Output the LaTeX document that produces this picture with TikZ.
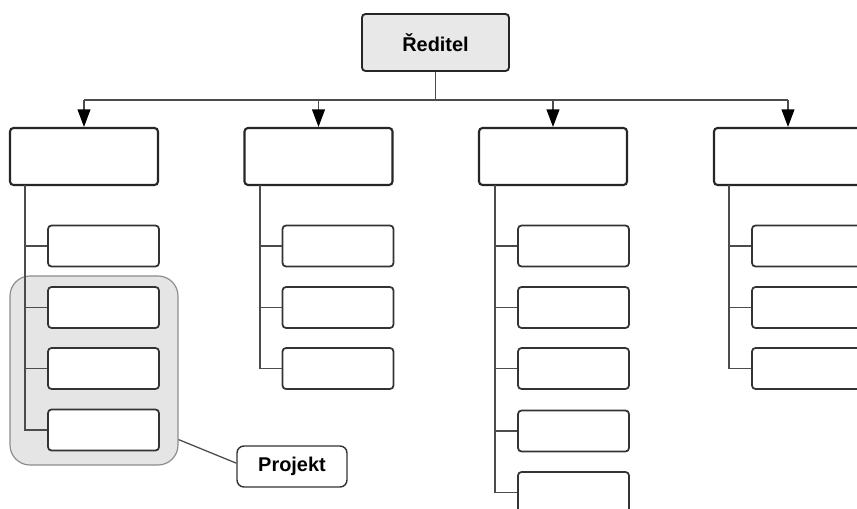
\documentclass[tikz,border=0pt]{standalone}
\usepackage{fontspec}
\setmainfont{Liberation Sans}
\usetikzlibrary{arrows.meta}

\begin{document}
\begin{tikzpicture}[x=0.03cm, y=-0.03cm,
    link/.style={draw=black!70, line width=1.1pt},
    down/.style={link, -{Triangle[length=15pt, width=11pt, black]}},
    chief/.style={draw=black!85, fill=black!9, line width=1.6pt, rounded corners=3pt,
        minimum width=4.41cm, minimum height=1.71cm, inner sep=0pt, font=\bfseries\fontsize{17}{19}\selectfont},
    unit/.style={draw=black!85, fill=white, line width=1.8pt, rounded corners=3pt,
        minimum width=4.44cm, minimum height=1.71cm, inner sep=0pt},
    sub/.style={draw=black!80, fill=white, line width=1.5pt, rounded corners=3pt,
        minimum width=3.33cm, minimum height=1.23cm, inner sep=0pt},
    group/.style={draw=black!45, fill=black!10, line width=1pt, rounded corners=0.6cm,
        minimum width=5.04cm, minimum height=5.67cm, inner sep=0pt},
    tag/.style={draw=black!80, fill=white, line width=1.2pt, rounded corners=6pt,
        minimum width=3.3cm, minimum height=1.23cm, inner sep=0pt, font=\bfseries\fontsize{17}{19}\selectfont}]

    \useasboundingbox (0, 0) rectangle (857, 509);
    \clip (0, 0) rectangle (857, 509);

    % project group behind the boxes
    \node[group] (grp) at (94, 370.5) {};

    \node[chief] (boss) at (435.5, 42.5) {Ředitel};

    \node[unit] (a1) at (84, 156.5) {};
    \node[unit] (a2) at (318.5, 156.5) {};
    \node[unit] (a3) at (553, 156.5) {};
    \node[unit] (a4) at (788, 156.5) {};

    \coordinate (bar) at (0, 100);
    \coordinate (t1) at (25, 185);
    \coordinate (t2) at (260, 185);
    \coordinate (t3) at (495, 185);
    \coordinate (t4) at (729, 185);

    \draw[link] (boss) -- (boss |- bar);
    \draw[link] (a1 |- bar) -- (a4 |- bar);
    \draw[down] (a1 |- bar) -- (a1);
    \draw[down] (a2 |- bar) -- (a2);
    \draw[down] (a3 |- bar) -- (a3);
    \draw[down] (a4 |- bar) -- (a4);

    % first column
    \node[sub] (b11) at (103.5, 246) {};
    \node[sub] (b12) at (103.5, 307.5) {};
    \node[sub] (b13) at (103.5, 368.5) {};
    \node[sub] (b14) at (103.5, 430) {};
    \draw[link] (t1) |- (b14);
    \draw[link] (t1 |- b11) -- (b11);
    \draw[link] (t1 |- b12) -- (b12);
    \draw[link] (t1 |- b13) -- (b13);

    % second column
    \node[sub] (b21) at (338, 246) {};
    \node[sub] (b22) at (338, 307.5) {};
    \node[sub] (b23) at (338, 368.5) {};
    \draw[link] (t2) |- (b23);
    \draw[link] (t2 |- b21) -- (b21);
    \draw[link] (t2 |- b22) -- (b22);

    % third column
    \node[sub] (b31) at (573.5, 246) {};
    \node[sub] (b32) at (573.5, 307.5) {};
    \node[sub] (b33) at (573.5, 368.5) {};
    \node[sub] (b34) at (573.5, 431) {};
    \node[sub] (b35) at (573.5, 492.5) {};
    \draw[link] (t3) |- (b35);
    \draw[link] (t3 |- b31) -- (b31);
    \draw[link] (t3 |- b32) -- (b32);
    \draw[link] (t3 |- b33) -- (b33);
    \draw[link] (t3 |- b34) -- (b34);

    % fourth column
    \node[sub] (b41) at (807.5, 246) {};
    \node[sub] (b42) at (807.5, 307.5) {};
    \node[sub] (b43) at (807.5, 368.5) {};
    \draw[link] (t4) |- (b43);
    \draw[link] (t4 |- b41) -- (b41);
    \draw[link] (t4 |- b42) -- (b42);

    % project label
    \node[tag] (proj) at (292, 466.5) {Projekt};
    \draw[link] ([yshift=0.78cm]grp.south east) -- ([yshift=0.1cm]proj.west);

\end{tikzpicture}
\end{document}
